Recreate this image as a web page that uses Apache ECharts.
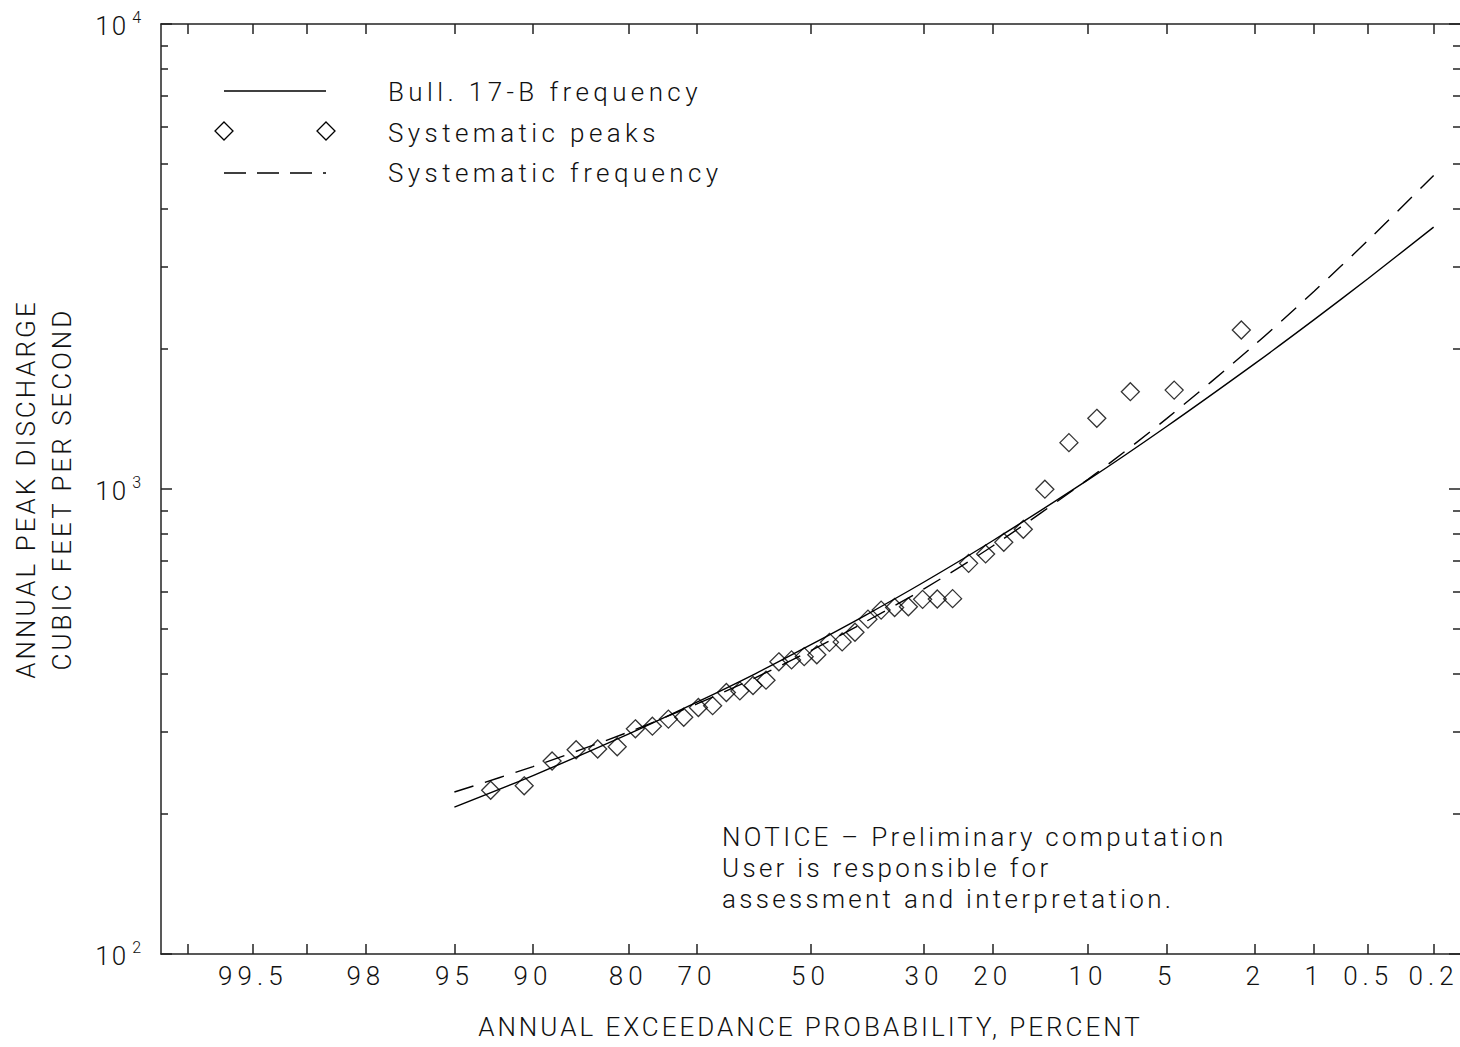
<!DOCTYPE html>
<html>
<head>
<meta charset="utf-8">
<script src="https://cdn.jsdelivr.net/npm/echarts@6/dist/echarts.min.js"></script>
<style>
html, body { margin: 0; padding: 0; background: #ffffff; }
#chart { width: 1460px; height: 1047px; }
text[style*="zqa"] { letter-spacing: 5px; }
text[style*="zqb"] { letter-spacing: 3px; }
text[style*="zqc"] { letter-spacing: 4.4px; }
text[style*="zqd"] { letter-spacing: 3.3px; }
text[style*="zqe"] { letter-spacing: 2px; }
</style>
</head>
<body>
<div id="chart"></div>
<script>
// ---------------- data ----------------
// probability-axis ticks (annual exceedance probability, percent)
const xTickPercents = [99.8, 99.5, 99, 98, 95, 90, 80, 70, 50, 30, 20, 10, 5, 2, 1, 0.5, 0.2];
const xLabelPercents = [99.5, 98, 95, 90, 80, 70, 50, 30, 20, 10, 5, 2, 1, 0.5, 0.2];
const xLabelTexts = ['99.5', '98', '95', '90', '80', '70', '50', '30', '20', '10', '5', '2', '1', '0.5', '0.2'];
// log axis ticks (cubic feet per second)
const yTickValues = [100, 1000, 10000];
const yTickExponents = ['2', '3', '4'];
const yMinorTicks = [200, 300, 400, 500, 600, 700, 800, 900, 2000, 3000, 4000, 5000, 6000, 7000, 8000, 9000];

// systematic peaks: plotting position (percent) and discharge (cfs)
const peakExceedance = [2.33, 4.65, 6.98, 9.30, 11.63, 13.95, 16.28, 18.60, 20.93, 23.26,
  25.58, 27.91, 30.23, 32.56, 34.88, 37.21, 39.53, 41.86, 44.19, 46.51,
  48.84, 51.16, 53.49, 55.81, 58.14, 60.47, 62.79, 65.12, 67.44, 69.77,
  72.09, 74.42, 76.74, 79.07, 81.40, 83.72, 86.05, 88.37, 90.70, 93.02];
const peakDischarge = [2198, 1632, 1619, 1419, 1258, 999, 819, 768, 725, 692,
  581, 580, 579, 558, 556, 549, 525, 492, 469, 468,
  440, 436, 429, 425, 388, 378, 368, 365, 342, 339,
  323, 320, 309, 305, 279, 276, 275, 260, 230, 225];

// frequency curves
const curveExceedance = [95, 90, 80, 70, 60, 50, 40, 30, 20, 10, 5, 2, 1, 0.5, 0.2];
const bull17bDischarge = [207, 242, 297, 348, 401, 462, 535, 631, 774, 1046, 1363, 1863, 2313, 2836, 3657];
const systematicDischarge = [223, 253, 300, 345, 393, 449, 518, 610, 754, 1049, 1417, 2046, 2663, 3428, 4723];

// ---------------- probability scale (standard normal quantile) ----------------
function normInv(p) {
  const a = [-3.969683028665376e+01, 2.209460984245205e+02, -2.759285104469687e+02, 1.383577518672690e+02, -3.066479806614716e+01, 2.506628277459239e+00];
  const b = [-5.447609879822406e+01, 1.615858368580409e+02, -1.556989798598866e+02, 6.680131188771972e+01, -1.328068155288572e+01];
  const c = [-7.784894002430293e-03, -3.223964580411365e-01, -2.400758277161838e+00, -2.549732539343734e+00, 4.374664141464968e+00, 2.938163982698783e+00];
  const d = [7.784695709041462e-03, 3.224671290700398e-01, 2.445134137142996e+00, 3.754408661907416e+00];
  const pl = 0.02425, ph = 1 - pl;
  let q, r;
  if (p < pl) {
    q = Math.sqrt(-2 * Math.log(p));
    return (((((c[0] * q + c[1]) * q + c[2]) * q + c[3]) * q + c[4]) * q + c[5]) / ((((d[0] * q + d[1]) * q + d[2]) * q + d[3]) * q + 1);
  }
  if (p <= ph) {
    q = p - 0.5; r = q * q;
    return (((((a[0] * r + a[1]) * r + a[2]) * r + a[3]) * r + a[4]) * r + a[5]) * q / (((((b[0] * r + b[1]) * r + b[2]) * r + b[3]) * r + b[4]) * r + 1);
  }
  q = Math.sqrt(-2 * Math.log(1 - p));
  return -(((((c[0] * q + c[1]) * q + c[2]) * q + c[3]) * q + c[4]) * q + c[5]) / ((((d[0] * q + d[1]) * q + d[2]) * q + d[3]) * q + 1);
}
const toZ = pct => normInv(1 - pct / 100);

const xTickZ = xTickPercents.map(toZ);
const xLabelZ = xLabelPercents.map(toZ);

const FONT = 'Roboto';
const FW = 300;
const FS = 26;
const INK = '#111';
const AX = '#222';

const chart = echarts.init(document.getElementById('chart'), null, { renderer: 'svg' });

const commonY = {
  type: 'log', logBase: 10, min: 100, max: 10000,
  splitLine: { show: false }
};

function txt(x, y, s, marker) {
  return {
    type: 'text', x: x, y: y,
    style: { text: s, fontSize: FS, fontFamily: FONT + ', ' + marker, fontWeight: FW, fill: INK, verticalAlign: 'middle', align: 'left' }
  };
}

const option = {
  animation: false,
  backgroundColor: '#ffffff',
  grid: { left: 159, right: -1, top: 24, bottom: 93, containLabel: false },
  xAxis: [
    {
      type: 'value', position: 'bottom', min: -3, max: 3,
      axisLine: { show: true, onZero: false, lineStyle: { color: AX, width: 1.5 } },
      axisTick: { show: true, inside: true, length: 10, customValues: xTickZ, lineStyle: { color: AX, width: 1.5 } },
      axisLabel: {
        show: true, customValues: xLabelZ, margin: 9,
        fontSize: FS, fontFamily: FONT + ', zqa', fontWeight: FW, color: INK,
        formatter: function (v) {
          const i = xLabelZ.findIndex(z => Math.abs(z - v) < 1e-6);
          return i >= 0 ? xLabelTexts[i] : '';
        }
      },
      splitLine: { show: false },
      name: 'ANNUAL EXCEEDANCE PROBABILITY, PERCENT',
      nameLocation: 'middle', nameGap: 60,
      nameTextStyle: { fontSize: FS, fontFamily: FONT + ', zqb', fontWeight: FW, color: INK }
    },
    {
      type: 'value', position: 'top', min: -3, max: 3,
      axisLine: { show: true, onZero: false, lineStyle: { color: AX, width: 1.5 } },
      axisTick: { show: true, inside: true, length: 10, customValues: xTickZ, lineStyle: { color: AX, width: 1.5 } },
      axisLabel: { show: false },
      splitLine: { show: false }
    }
  ],
  yAxis: [
    Object.assign({}, commonY, {
      position: 'left',
      axisLine: { show: true, onZero: false, lineStyle: { color: AX, width: 1.5 } },
      axisTick: { show: true, inside: true, length: 11, customValues: yTickValues, lineStyle: { color: AX, width: 1.5 } },
      axisLabel: {
        show: true, customValues: yTickValues, margin: 20,
        formatter: function (v) {
          const i = yTickValues.findIndex(t => Math.abs(t - v) / t < 1e-6);
          return '{b|10}{s|' + (i >= 0 ? yTickExponents[i] : '') + '}';
        },
        rich: {
          b: { fontSize: FS, fontFamily: FONT + ', zqe', fontWeight: FW, color: INK, lineHeight: 30, verticalAlign: 'bottom' },
          s: { fontSize: 16, fontFamily: FONT, fontWeight: FW, color: INK, lineHeight: 16, verticalAlign: 'top', padding: [0, 0, 0, 4] }
        }
      },
      name: 'ANNUAL PEAK DISCHARGE\nCUBIC FEET PER SECOND',
      nameLocation: 'middle', nameRotate: 90, nameGap: 81,
      nameTextStyle: { fontSize: FS, lineHeight: 36, fontFamily: FONT + ', zqb', fontWeight: FW, color: INK, align: 'center' }
    }),
    Object.assign({}, commonY, {
      position: 'left',
      axisLine: { show: false, onZero: false },
      axisTick: { show: true, inside: true, length: 7, customValues: yMinorTicks, lineStyle: { color: AX, width: 1.5 } },
      axisLabel: { show: false }
    }),
    Object.assign({}, commonY, {
      position: 'right',
      axisLine: { show: false, onZero: false },
      axisTick: { show: true, inside: true, length: 11, customValues: yTickValues, lineStyle: { color: AX, width: 1.5 } },
      axisLabel: { show: false }
    }),
    Object.assign({}, commonY, {
      position: 'right',
      axisLine: { show: false, onZero: false },
      axisTick: { show: true, inside: true, length: 7, customValues: yMinorTicks, lineStyle: { color: AX, width: 1.5 } },
      axisLabel: { show: false }
    })
  ],
  series: [
    {
      name: 'Bull. 17-B frequency', type: 'line', xAxisIndex: 0, yAxisIndex: 0,
      data: curveExceedance.map((p, i) => [toZ(p), bull17bDischarge[i]]),
      symbol: 'none', showSymbol: false, smooth: 0.3,
      lineStyle: { color: '#000', width: 1.4 }
    },
    {
      name: 'Systematic frequency', type: 'line', xAxisIndex: 0, yAxisIndex: 0,
      data: curveExceedance.map((p, i) => [toZ(p), systematicDischarge[i]]),
      symbol: 'none', showSymbol: false, smooth: 0.3,
      lineStyle: { color: '#000', width: 1.4, type: [20, 12] }
    },
    {
      name: 'Systematic peaks', type: 'scatter', xAxisIndex: 0, yAxisIndex: 0,
      data: peakExceedance.map((p, i) => [toZ(p), peakDischarge[i]]),
      symbol: 'diamond', symbolSize: 18,
      itemStyle: { color: 'rgba(0,0,0,0)', borderColor: '#000', borderWidth: 1.3 }
    }
  ],
  graphic: [
    { type: 'line', shape: { x1: 224, y1: 91, x2: 326, y2: 91 }, style: { stroke: '#000', lineWidth: 1.4 } },
    { type: 'polygon', shape: { points: [[224, 122], [233, 131], [224, 140], [215, 131]] }, style: { fill: 'none', stroke: '#000', lineWidth: 1.3 } },
    { type: 'polygon', shape: { points: [[326, 122], [335, 131], [326, 140], [317, 131]] }, style: { fill: 'none', stroke: '#000', lineWidth: 1.3 } },
    { type: 'line', shape: { x1: 224, y1: 173, x2: 326, y2: 173 }, style: { stroke: '#000', lineWidth: 1.4, lineDash: [22, 11] } },
    txt(388, 92, 'Bull. 17-B frequency', 'zqc'),
    txt(388, 133, 'Systematic peaks', 'zqc'),
    txt(388, 173, 'Systematic frequency', 'zqc'),
    txt(722, 837, 'NOTICE \u2013 Preliminary computation', 'zqd'),
    txt(722, 868, 'User is responsible for', 'zqd'),
    txt(722, 899, 'assessment and interpretation.', 'zqd')
  ]
};

chart.setOption(option);
</script>
</body>
</html>
